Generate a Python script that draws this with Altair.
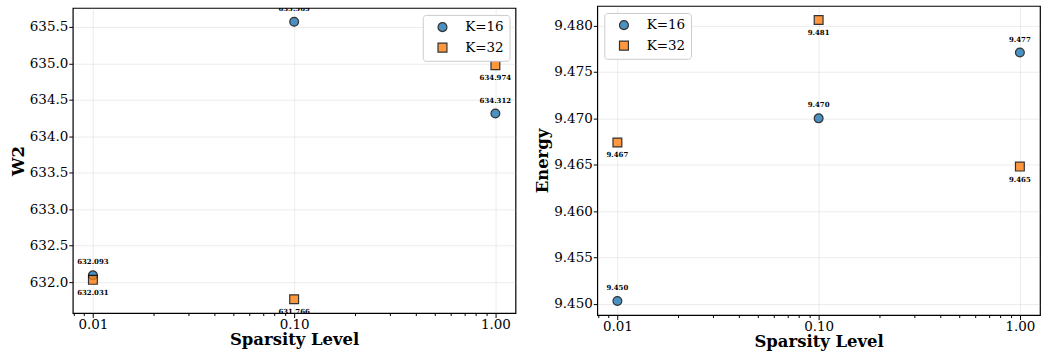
import altair as alt
import pandas as pd

# ---- data ----
sparsity = [0.01, 0.1, 1.0]
series = ["K=16", "K=32"]
w2_k16 = [632.093, 635.569, 634.312]
w2_k32 = [632.031, 631.766, 634.974]
energy_k16 = [9.4503, 9.4700, 9.4771]
energy_k32 = [9.4674, 9.4806, 9.4648]

x_ticks = [0.008, 0.009, 0.01, 0.02, 0.03, 0.04, 0.05, 0.06, 0.07, 0.08, 0.09,
           0.1, 0.2, 0.3, 0.4, 0.5, 0.6, 0.7, 0.8, 0.9, 1.0]
w2_ticks = [632.0, 632.5, 633.0, 633.5, 634.0, 634.5, 635.0, 635.5]
energy_ticks = [9.450, 9.455, 9.460, 9.465, 9.470, 9.475, 9.480]

colors = ["#1f77b4", "#ff7f0e"]
edges = ["black", "black"]
shapes = ["circle", "square"]
FONT = "DejaVu Serif"


def make_df(a, b):
    rows = []
    for k, vals in zip(series, [a, b]):
        for s, v in zip(sparsity, vals):
            rows.append({"s": s, "K": k, "v": v, "lab": format(v, ".3f")})
    return pd.DataFrame(rows)


MAJOR = "datum.value == 0.01 || datum.value == 0.1 || datum.value == 1"

x_axis = alt.Axis(
    values=x_ticks,
    labelExpr=f"({MAJOR}) ? format(datum.value, '.2f') : ''",
    tickSize={"condition": {"test": MAJOR, "value": 4.5}, "value": 2.5},
    gridOpacity={"condition": {"test": MAJOR, "value": 0.3}, "value": 0},
    labelPadding=0,
    titlePadding=1,
)


def panel(df, ytitle, ydomain, yticks, yfmt, width, height, lx, ly):
    x = alt.X("s:Q", title="Sparsity Level",
              scale=alt.Scale(type="log", domain=[10 ** -2.1, 10 ** 0.1], nice=False),
              axis=x_axis)
    y = alt.Y("v:Q", title=ytitle,
              scale=alt.Scale(domain=ydomain, nice=False, zero=False),
              axis=alt.Axis(values=yticks, format=yfmt, tickSize=4, labelPadding=1,
                            titlePadding=3, gridOpacity=0.3))
    leg = alt.Legend(title=None, orient="none", legendX=lx, legendY=ly,
                     symbolStrokeWidth=1.2, symbolOpacity=0.8)
    base = alt.Chart(df)
    pts = base.mark_point(filled=False, strokeWidth=1.2, size=78,
                          opacity=0.8).encode(
        x=x, y=y,
        fill=alt.Fill("K:N", scale=alt.Scale(domain=series, range=colors), legend=leg),
        stroke=alt.Stroke("K:N", scale=alt.Scale(domain=series, range=edges), legend=leg),
        shape=alt.Shape("K:N", scale=alt.Scale(domain=series, range=shapes), legend=leg),
    )
    above = base.transform_filter("datum.K == 'K=16'").mark_text(
        dy=-11, baseline="alphabetic", font=FONT, fontSize=7, fontWeight="bold",
        color="black", clip=True).encode(x=x, y=y, text="lab:N")
    below = base.transform_filter("datum.K == 'K=32'").mark_text(
        dy=9, baseline="top", font=FONT, fontSize=7, fontWeight="bold",
        color="black", clip=True).encode(x=x, y=y, text="lab:N")
    return alt.layer(pts, above, below).properties(width=width, height=height)


left = panel(make_df(w2_k16, w2_k32), "W2", [631.576, 635.759], w2_ticks, ".1f",
             444, 306, 351, 7)
right = panel(make_df(energy_k16, energy_k32), "Energy", [9.44879, 9.48212],
              energy_ticks, ".3f", 444, 310, 7, 7)

chart = alt.hconcat(left, right, spacing=17, center=True).resolve_scale(
    fill="independent", shape="independent", stroke="independent"
).resolve_legend(
    fill="independent", shape="independent", stroke="independent"
).properties(
    padding={"left": 9, "top": 4, "right": 0, "bottom": 5}
).configure_view(
    stroke="black", strokeWidth=1.2
).configure_axis(
    labelFont=FONT, labelFontSize=13.5, labelColor="black",
    titleFont=FONT, titleFontSize=16.5, titleFontWeight="bold", titleColor="black",
    tickColor="black", tickWidth=1, domain=False,
    grid=True, gridColor="#b0b0b0", gridWidth=0.8,
).configure_legend(
    labelFont=FONT, labelFontSize=13.5, labelColor="black",
    fillColor="white", strokeColor="#cccccc", cornerRadius=3, padding=5.5,
    symbolOffset=7.5, labelOffset=16, rowPadding=5.5, symbolSize=80,
)

chart.save("out.html", embed_options={"renderer": "svg", "actions": False})
